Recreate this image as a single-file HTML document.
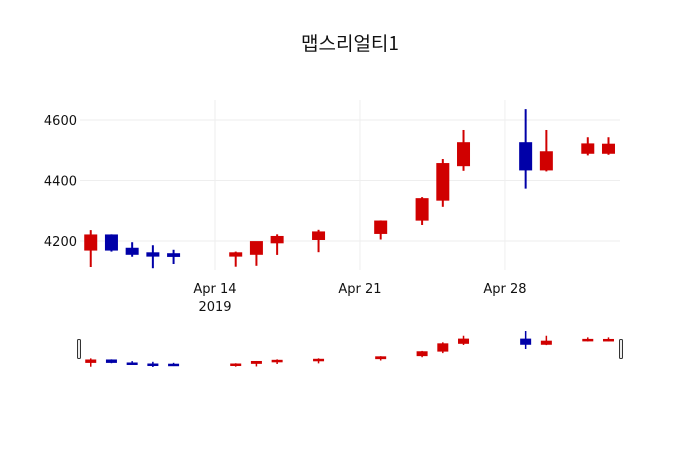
<!DOCTYPE html>
<html><head><meta charset="utf-8"><style>
body{margin:0;background:#fff}
svg text{font-family:"DejaVu Sans","Noto Sans CJK KR",sans-serif}
</style></head><body>
<svg id="c" width="700" height="450" xmlns="http://www.w3.org/2000/svg">
<text x="350" y="50" text-anchor="middle" font-size="19" fill="#111" style="font-family:'Noto Sans CJK KR','DejaVu Sans',sans-serif">맵스리얼티1</text>
<g id="grid"></g><g id="marks"></g><g id="slider"></g>
</svg>
<script>
const dates=["2019-04-08","2019-04-09","2019-04-10","2019-04-11","2019-04-12","2019-04-15","2019-04-16","2019-04-17","2019-04-19","2019-04-22","2019-04-24","2019-04-25","2019-04-26","2019-04-29","2019-04-30","2019-05-02","2019-05-03"];
const opens=[4170,4220,4176,4161,4158,4150,4156,4194,4205,4225,4269,4335,4449,4525,4435,4490,4490];
const highs=[4236,4222,4196,4186,4171,4165,4198,4222,4237,4268,4345,4471,4567,4636,4567,4543,4543];
const lows=[4114,4165,4148,4110,4124,4115,4118,4154,4163,4205,4253,4313,4432,4373,4430,4483,4485];
const closes=[4220,4170,4156,4150,4149,4161,4198,4215,4230,4266,4340,4456,4525,4435,4495,4521,4520];
const yTicks=[4200,4400,4600];
const xTicks=["2019-04-14","2019-04-21","2019-04-28"];
const xTickLabels=["Apr 14","Apr 21","Apr 28"];
const NS="http://www.w3.org/2000/svg";
const t0=Date.UTC(2019,3,14);
function day(s){const p=s.split("-");return (Date.UTC(+p[0],p[1]-1,+p[2])-t0)/864e5;}
const x=s=>215+day(s)*20.71;
const y=v=>241-(v-4200)*0.3025;
const ys=v=>367-(v-4110)*0.0684;
function mk(tag,attrs,parent){const e=document.createElementNS(NS,tag);for(const k in attrs)e.setAttribute(k,attrs[k]);parent.appendChild(e);return e;}
const grid=document.getElementById("grid"),marks=document.getElementById("marks"),sl=document.getElementById("slider");
yTicks.forEach(v=>{
 const l=mk("line",{x1:80,x2:620,y1:y(v),y2:y(v),stroke:"#eee","stroke-width":1},grid);
 
 
 const t=mk("text",{x:77,y:y(v)+5,"text-anchor":"end","font-size":13,fill:"#111"},grid);
 t.textContent=v;
 
 
});
xTicks.forEach((d,i)=>{
 const l=mk("line",{x1:x(d),x2:x(d),y1:100,y2:270,stroke:"#eee","stroke-width":1},grid);
 
 
 const t=mk("text",{x:x(d),y:293,"text-anchor":"middle","font-size":13,fill:"#111"},grid);
 t.textContent=xTickLabels[i];
 
 
});
const yr=mk("text",{x:x(xTicks[0]),y:311,"text-anchor":"middle","font-size":13,fill:"#111"},grid);
yr.textContent="2019";


dates.forEach((d,i)=>{
 const up=closes[i]>=opens[i];const col=up?"#d00000":"#0000a8";const cx=x(d);
 const g=mk("g",{},marks);
 
 
 mk("line",{x1:cx,x2:cx,y1:y(highs[i]),y2:y(lows[i]),stroke:col,"stroke-width":2},g);
 const top=y(Math.max(opens[i],closes[i])),bot=y(Math.min(opens[i],closes[i]));
 mk("rect",{x:cx-6,y:top,width:12,height:Math.max(bot-top,1.5),fill:col,stroke:col,"stroke-width":1},g);
 const g2=mk("g",{},sl);
 
 
 mk("line",{x1:cx,x2:cx,y1:ys(highs[i]),y2:ys(lows[i]),stroke:col,"stroke-width":1.5},g2);
 const t2=ys(Math.max(opens[i],closes[i])),b2=ys(Math.min(opens[i],closes[i]));
 mk("rect",{x:cx-5.5,y:t2,width:11,height:Math.max(b2-t2,2.5),fill:col},g2);
});
[[77.5],[619.5]].forEach(([hx],i)=>{
 const h=mk("rect",{x:hx,y:339.5,width:3,height:19,rx:1,fill:"#eee",stroke:"#333","stroke-width":1},sl);
 
 
});
</script>
</body></html>
